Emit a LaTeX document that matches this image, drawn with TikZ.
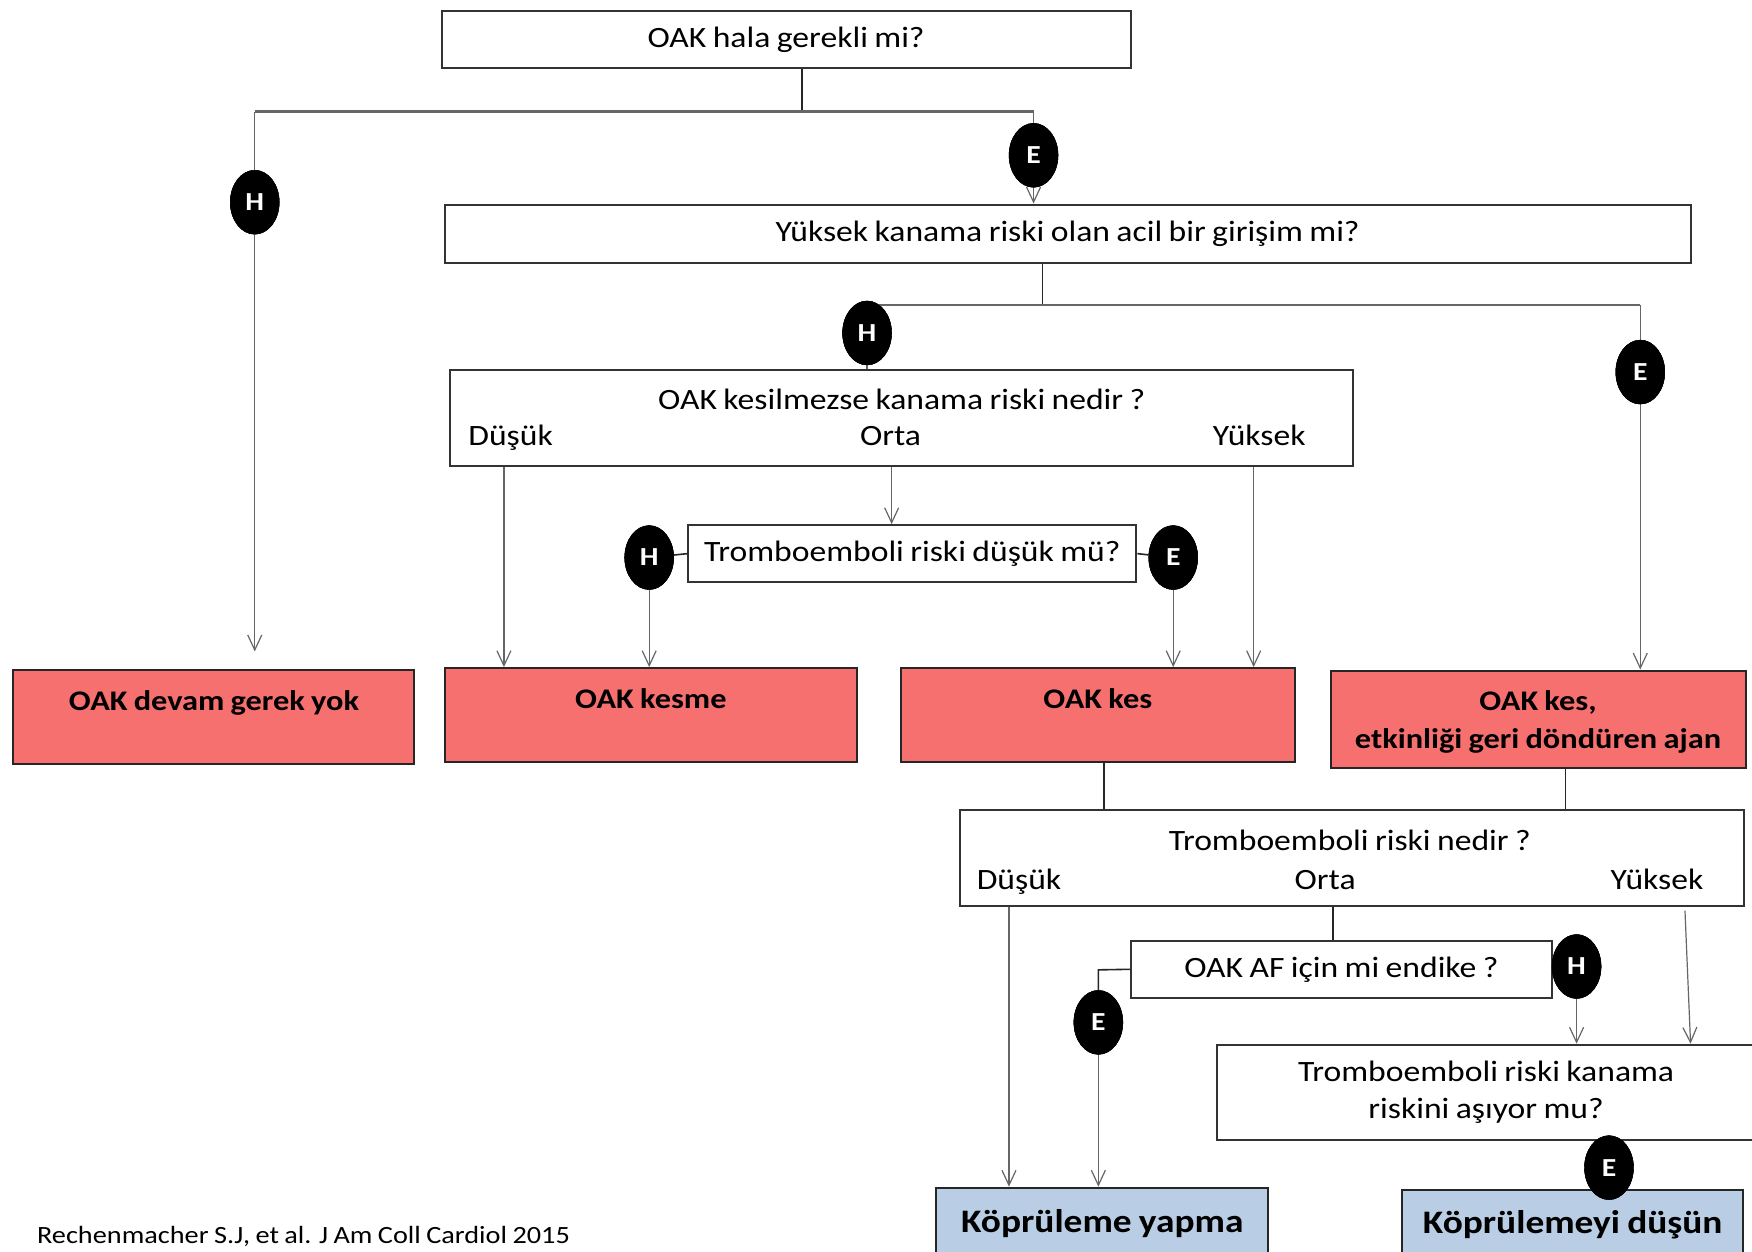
\documentclass[tikz,border=0pt]{standalone}
\usepackage{fontspec}
\setmainfont{Carlito}[FakeStretch=1.14,WordSpace=0.85]
\usetikzlibrary{shapes.geometric,arrows.meta}
\definecolor{redbox}{RGB}{247,112,112}
\definecolor{bluebox}{RGB}{185,205,228}
\tikzset{
  qbox/.style={draw=black!80, line width=2pt, fill=white, inner sep=0pt, font=\fontsize{29.5}{33}\selectfont, align=center},
  rbox/.style={draw=black!85, line width=2pt, fill=redbox, inner sep=0pt},
  bbox/.style={draw=black!85, line width=2pt, fill=bluebox, inner sep=0pt, font=\fontsize{32.8}{38}\selectfont\bfseries},
  rtext/.style={font=\fontsize{28.4}{38}\selectfont\bfseries, align=center, inner sep=0pt},
  lbl/.style={font=\fontsize{29.5}{33}\selectfont, inner sep=0pt, text height=19pt, text depth=6pt},
  yn/.style={ellipse, fill=black, draw=black, minimum width=49pt, minimum height=64pt, inner sep=0pt, text=white, font=\fontsize{26}{28}\selectfont\bfseries},
  stem/.style={draw=black!85, line width=1.6pt},
  hbar/.style={draw=black!60, line width=2.6pt},
  arr/.style={draw=black!60, line width=1.2pt, -{Straight Barb[length=15pt,width=14pt,line width=1.2pt]}},
  thin/.style={draw=black!60, line width=1.2pt}
}
\begin{document}
\begin{tikzpicture}[x=1.1173pt,y=-1.1173pt]
\useasboundingbox[fill=white] (0,0) rectangle (1568,1120);

% question boxes
\node[qbox, minimum width=689pt, minimum height=57pt] (b1) at (703.5,35.5) {\raisebox{-2pt}{OAK hala gerekli mi?}};
\node[qbox, minimum width=1246pt, minimum height=58pt] (b2) at (955.5,209) {\raisebox{-2pt}{Yüksek kanama riski olan acil bir girişim mi?}};
\node[qbox, minimum width=903pt, minimum height=96pt] (b3) at (807,374) {};
\node[lbl] (b3t) at (807,361) {OAK kesilmezse kanama riski nedir ?};
\node[lbl] (b3a) at (457,393) {Düşük};
\node[lbl] (b3b) at (797,393) {Orta};
\node[lbl] (b3c) at (1127,393) {Yüksek};
\node[qbox, minimum width=448pt, minimum height=57pt] (b4) at (816.5,495.5) {\raisebox{-2pt}{Tromboemboli riski düşük mü?}};

% red result boxes
\node[rbox, minimum width=401pt, minimum height=94pt] (r1) at (191.5,642) {};
\node[rtext] (r1t) at (191.5,629) {OAK devam gerek yok};
\node[rbox, minimum width=412pt, minimum height=94pt] (r2) at (582.5,640) {};
\node[rtext] (r2t) at (582.5,625) {OAK kesme};
\node[rbox, minimum width=394pt, minimum height=94pt] (r3) at (982.5,640) {};
\node[rtext] (r3t) at (982.5,625) {OAK kes};
\node[rbox, minimum width=415pt, minimum height=97pt] (r4) at (1376.5,643.5) {};
\node[rtext] (r4t) at (1376.5,646.5) {OAK kes,\\etkinliği geri döndüren ajan};

% lower question boxes
\node[qbox, minimum width=784pt, minimum height=96pt] (b5) at (1210,768) {};
\node[lbl] (b5t) at (1208,755) {Tromboemboli riski nedir ?};
\node[lbl] (b5a) at (912,790) {Düşük};
\node[lbl] (b5b) at (1186,790) {Orta};
\node[lbl] (b5c) at (1483,790) {Yüksek};
\node[qbox, minimum width=421pt, minimum height=57pt] (b6) at (1200.5,867.5) {\raisebox{-2pt}{OAK AF için mi endike ?}};
\node[qbox, minimum width=549pt, minimum height=95pt, font=\fontsize{29.5}{37}\selectfont] (b7) at (1334.5,977.5) {\hspace*{-10pt}Tromboemboli riski kanama\\\hspace*{-10pt}riskini aşıyor mu?};

% blue boxes
\node[bbox, minimum width=332pt, minimum height=75pt] (k1) at (986.5,1096.5) {\raisebox{8pt}{Köprüleme yapma}};
\node[bbox, minimum width=341pt, minimum height=73pt] (k2) at (1407.5,1097.5) {\raisebox{8pt}{Köprülemeyi düşün}};

% footer
\node[anchor=west, inner sep=0pt, font=\fontsize{24.8}{28}\selectfont] (foot) at (33,1107) {Rechenmacher S.J, et al. J Am Coll Cardiol 2015};

% coordinates
\coordinate (j1) at (718,100);
\coordinate (j1l) at (228,100);
\coordinate (j1r) at (925,100);
\coordinate (j2) at (933,273);
\coordinate (j2l) at (776,273);
\coordinate (j2r) at (1468,273);
\coordinate (a1) at (228,583);
\coordinate (j6) at (983,868);

% yes/no ellipses
\node[yn] (h1) at (228,181) {H};
\node[yn] (e1) at (925,139) {E};
\node[yn] (h2) at (776,298) {H};
\node[yn] (e2) at (1468,333) {E};
\node[yn] (h3) at (581,499) {H};
\node[yn] (e3) at (1050,499) {E};
\node[yn] (e4) at (983,915) {E};
\node[yn] (h4) at (1411,865) {H};
\node[yn] (e5) at (1440,1045) {E};

% level 1
\draw[stem] (b1.south -| j1) -- (j1);
\draw[hbar] (j1l) -- (j1r);
\draw[thin] (j1l) -- (h1.north);
\draw[arr] (h1.south) -- (a1);
\draw[thin] (j1r) -- (e1.north);
\draw[arr] (e1.south) -- (b2.north -| e1);

% level 2
\draw[stem] (b2.south -| j2) -- (j2);
\draw[hbar] (j2l) -- (j2r);
\draw[thin] (h2.south) -- (b3.north -| h2);
\draw[thin] (j2r) -- (e2.north);
\draw[arr] (e2.south) -- (r4.north -| e2);

% level 3
\draw[arr] (b3.south -| b3a) ++(-6,0) coordinate (c3a) -- (r2.north -| c3a);
\draw[arr] (b3.south -| 798,0) -- (b4.north -| 798,0);
\draw[arr] (b3.south -| 1122,0) -- (r3.north -| 1122,0);
\draw[stem] (h3) -- (b4.west);
\draw[stem] (b4.east) -- (e3);
\draw[arr] (h3.south) -- (r2.north -| h3);
\draw[arr] (e3.south) -- (r3.north -| e3);

% level 4
\draw[stem] (r3.south -| 988,0) -- (b5.north -| 988,0);
\draw[stem] (r4.south -| 1401,0) -- (b5.north -| 1401,0);
\draw[arr] (b5.south -| 903,0) -- (k1.north -| 903,0);
\draw[stem] (b5.south -| 1193,0) -- (b6.north -| 1193,0);
\draw[arr] (1508,815) -- (b7.north -| 1513,0);
\draw[stem] (b6.west) -- (j6) -- (e4.north);
\draw[arr] (e4.south) -- (k1.north -| e4);
\draw[arr] (h4.south) -- (b7.north -| h4);

% redraw ellipses on top
\node[yn] at (h1) {H};
\node[yn] at (e1) {E};
\node[yn] at (h2) {H};
\node[yn] at (e2) {E};
\node[yn] at (h3) {H};
\node[yn] at (e3) {E};
\node[yn] at (e4) {E};
\node[yn] at (h4) {H};
\node[yn] at (e5) {E};
\end{tikzpicture}
\end{document}
